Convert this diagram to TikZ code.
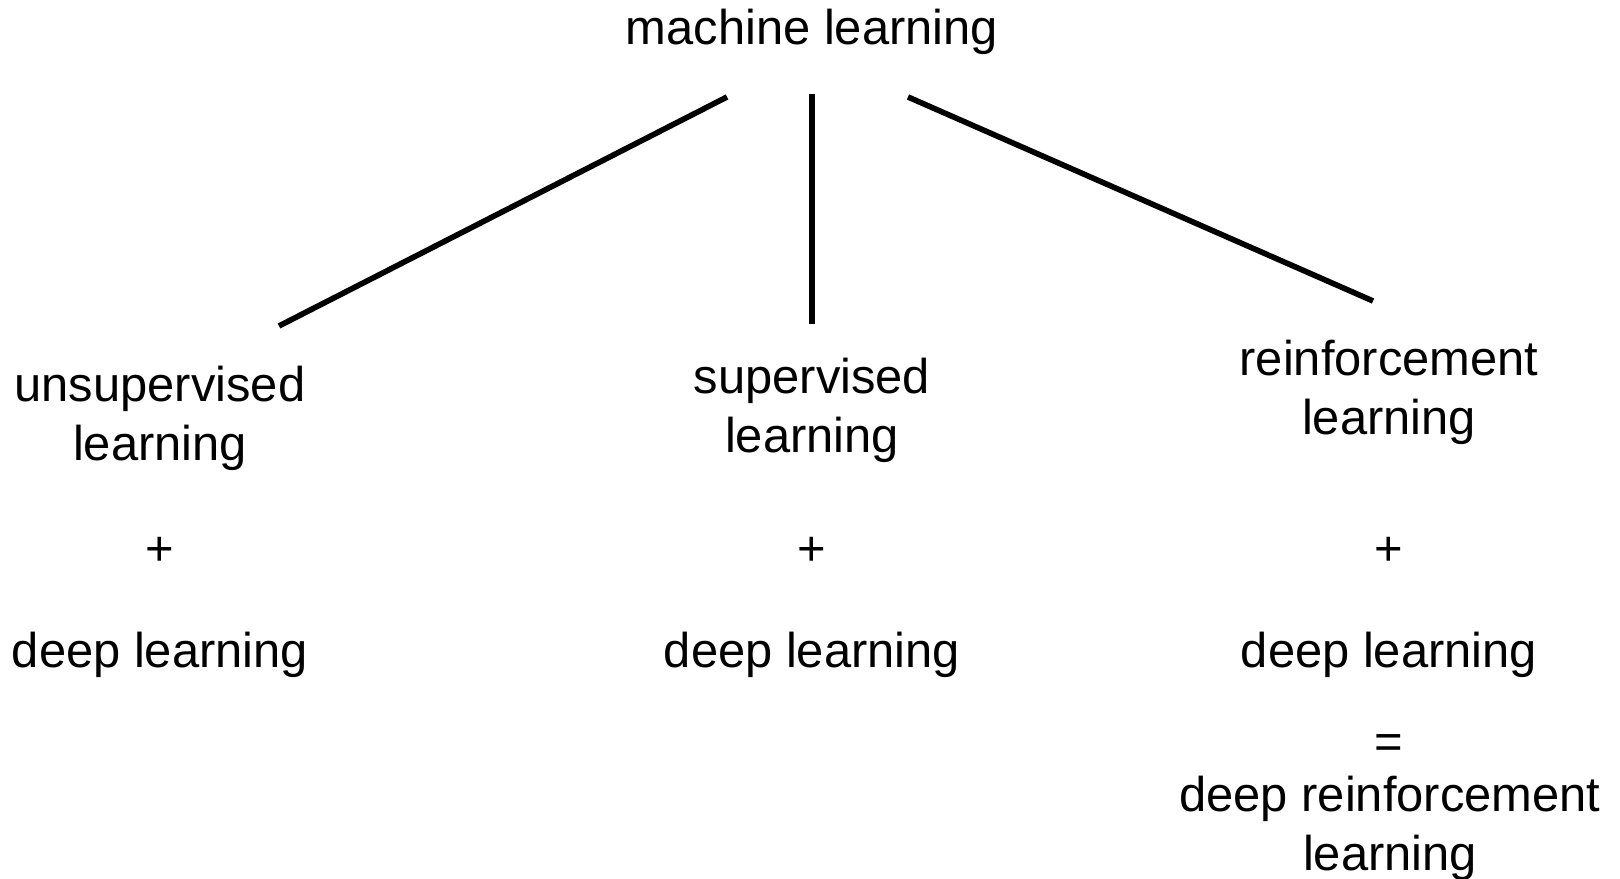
\documentclass[tikz,border=0pt]{standalone}
\usepackage{fontspec}
\setmainfont{Liberation Sans}
\begin{document}
\begin{tikzpicture}[x=0.01cm, y=0.01cm,
    field/.style ={align=center, anchor=base, inner sep=0pt,
                   font=\fontsize{13.9}{17}\selectfont},
    branch/.style ={line width=1.6pt}]
   \useasboundingbox (0,0) rectangle (1620,879);

   % root and the three kinds of learning (base = last line)
   \node[field] (ML)  at (812,834)  {machine learning};
   \node[field] (UL)  at (160,418)  {unsupervised\\learning};
   \node[field] (SL)  at (812,426)  {supervised\\learning};
   \node[field] (RL)  at (1389,444) {reinforcement\\learning};

   % each one combined with deep learning
   \node[field] (UP)  at (160,313)  {+};
   \node[field] (SP)  at (812,313)  {+};
   \node[field] (RP)  at (1389,313) {+};
   \node[field] (UD)  at (160,211)  {deep learning};
   \node[field] (SD)  at (812,211)  {deep learning};
   \node[field] (RD)  at (1389,211) {deep learning};
   \node[field] (EQ)  at (1389,120) {=};
   \node[field] (DRL) at (1390,8)   {deep reinforcement\\learning};

   % ends of the branches
   \coordinate (ML-1) at (727,782);
   \coordinate (ML-2) at (812,785);
   \coordinate (ML-3) at (908,782);
   \coordinate (UL-t) at (279,553);
   \coordinate (SL-t) at (812,555);
   \coordinate (RL-t) at (1373,578);

   \draw[branch] (ML-1) to (UL-t);
   \draw[branch] (ML-2) to (SL-t);
   \draw[branch] (ML-3) to (RL-t);
 \end{tikzpicture}
\end{document}
